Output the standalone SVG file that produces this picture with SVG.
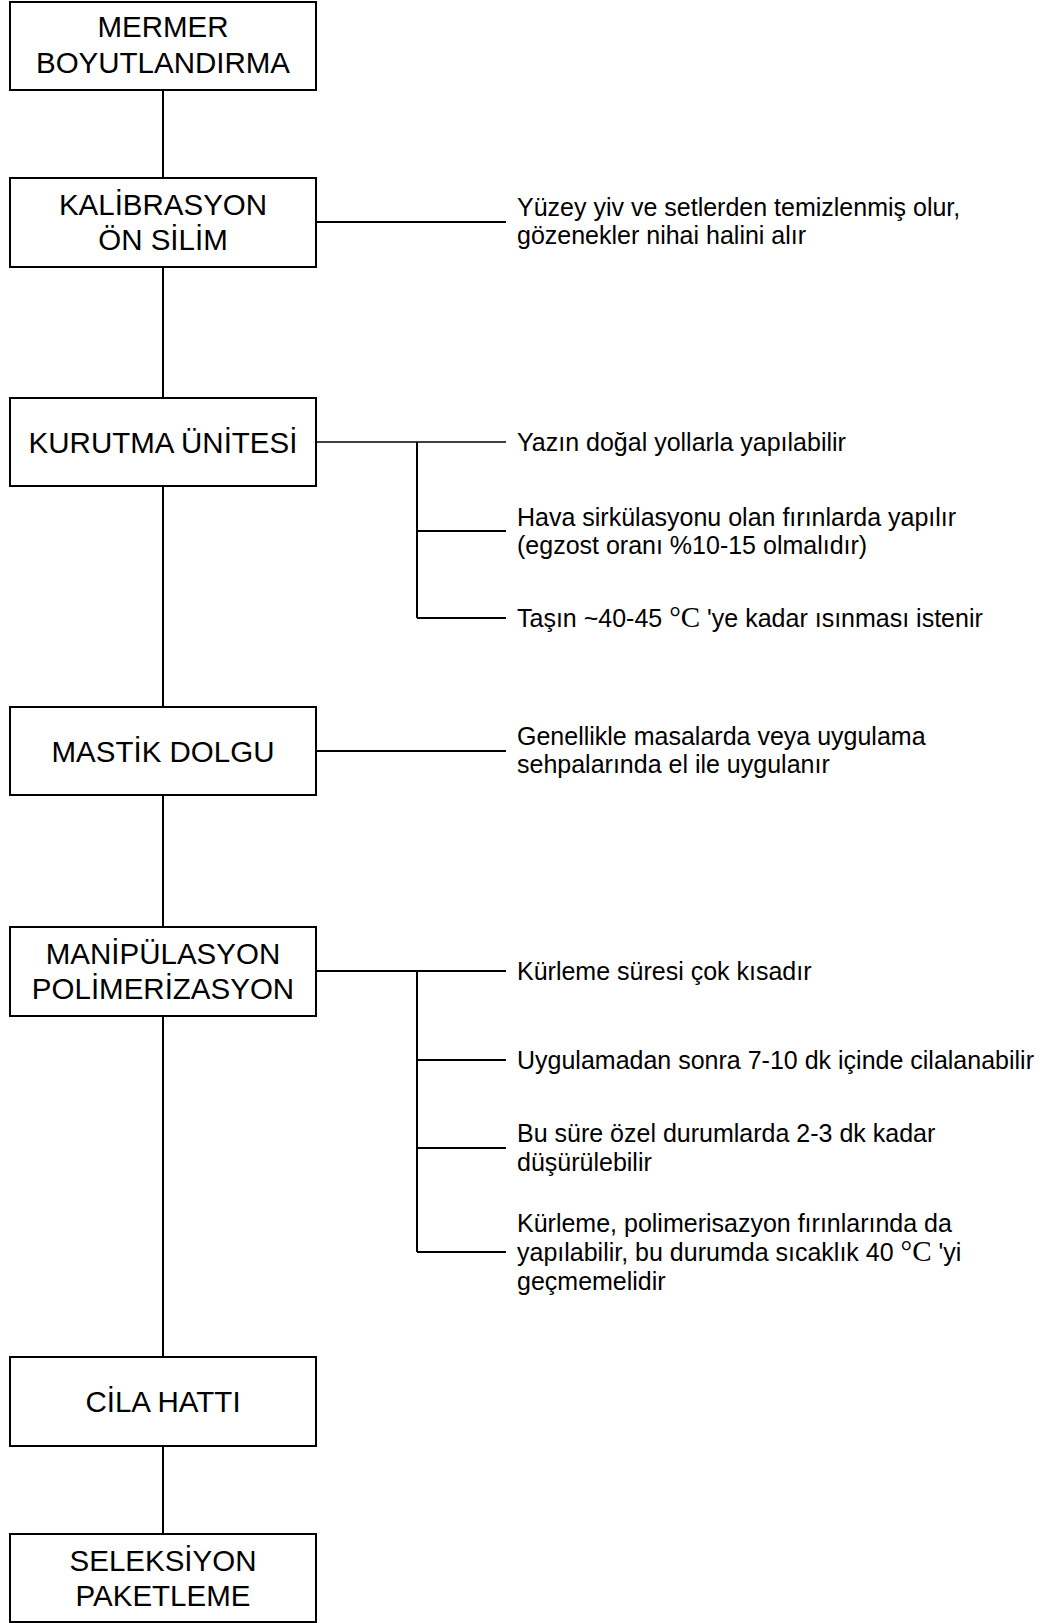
<svg xmlns="http://www.w3.org/2000/svg" width="1043" height="1623" viewBox="0 0 1043 1623">
<style>
.box{fill:#fff;stroke:#000;stroke-width:2}
.bt{font-family:"Liberation Sans",Arial,sans-serif;font-size:29.5px;fill:#000;text-anchor:middle}
.st{font-family:"Liberation Sans",Arial,sans-serif;font-size:25px;fill:#000}
.deg{font-family:"Liberation Serif","Times New Roman",serif;font-size:29px}
.ln{stroke:#000;stroke-width:2;fill:none}
.ln1{stroke:#000;stroke-width:1.5;fill:none}
</style>
<rect width="1043" height="1623" fill="#fff"/>
<g id="connectors">
<path class="ln" d="M163 90V178M163 267V398M163 486V707M163 795V927M163 1016V1357M163 1446V1534"/>
<path class="ln" d="M316 222H506"/>
<path class="ln1" d="M316 442H506"/>
<path class="ln" d="M417 442V618M417 531H506M417 618H506"/>
<path class="ln" d="M316 751H506"/>
<path class="ln" d="M316 971H506M417 971V1252M417 1060H506M417 1148H506M417 1252H506"/>
</g>
<g id="n1"><rect class="box" x="10" y="2" width="306" height="88"/><text class="bt" x="163" y="37">MERMER</text><text class="bt" x="163" y="72.5">BOYUTLANDIRMA</text></g>
<g id="n2"><rect class="box" x="10" y="178" width="306" height="89"/><text class="bt" x="163" y="215">KALİBRASYON</text><text class="bt" x="163" y="250">ÖN SİLİM</text></g>
<g id="n3"><rect class="box" x="10" y="398" width="306" height="88"/><text class="bt" x="163" y="452.5">KURUTMA ÜNİTESİ</text></g>
<g id="n4"><rect class="box" x="10" y="707" width="306" height="88"/><text class="bt" x="163" y="761.5">MASTİK DOLGU</text></g>
<g id="n5"><rect class="box" x="10" y="927" width="306" height="89"/><text class="bt" x="163" y="964">MANİPÜLASYON</text><text class="bt" x="163" y="999">POLİMERİZASYON</text></g>
<g id="n6"><rect class="box" x="10" y="1357" width="306" height="89"/><text class="bt" x="163" y="1412">CİLA HATTI</text></g>
<g id="n7"><rect class="box" x="10" y="1534" width="306" height="88"/><text class="bt" x="163" y="1570.5">SELEKSİYON</text><text class="bt" x="163" y="1605.5">PAKETLEME</text></g>
<g id="notes">
<text class="st" x="517" y="216">Yüzey yiv ve setlerden temizlenmiş olur,</text>
<text class="st" x="517" y="244">gözenekler nihai halini alır</text>
<text class="st" x="517" y="450.5">Yazın doğal yollarla yapılabilir</text>
<text class="st" x="517" y="525.5">Hava sirkülasyonu olan fırınlarda yapılır</text>
<text class="st" x="517" y="553.5">(egzost oranı %10-15 olmalıdır)</text>
<text class="st" x="517" y="626.5">Taşın ~40-45 <tspan class="deg">°C</tspan> 'ye kadar ısınması istenir</text>
<text class="st" x="517" y="745">Genellikle masalarda veya uygulama</text>
<text class="st" x="517" y="773">sehpalarında el ile uygulanır</text>
<text class="st" x="517" y="979.5">Kürleme süresi çok kısadır</text>
<text class="st" x="517" y="1068.5">Uygulamadan sonra 7-10 dk içinde cilalanabilir</text>
<text class="st" x="517" y="1142">Bu süre özel durumlarda 2-3 dk kadar</text>
<text class="st" x="517" y="1170.5">düşürülebilir</text>
<text class="st" x="517" y="1232">Kürleme, polimerisazyon fırınlarında da</text>
<text class="st" x="517" y="1261">yapılabilir, bu durumda sıcaklık 40 <tspan class="deg">°C</tspan> 'yi</text>
<text class="st" x="517" y="1290">geçmemelidir</text>
</g>
</svg>
